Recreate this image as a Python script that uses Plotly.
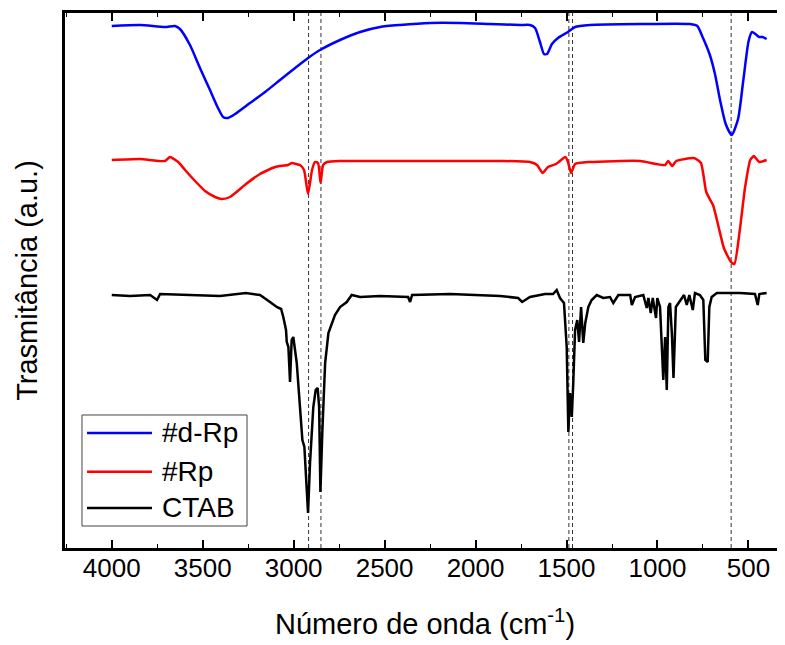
import plotly.graph_objects as go

# ---------------- data ----------------
drp_wn = [4000, 3844, 3707, 3652, 3625, 3570, 3515, 3460, 3416, 3388, 3361, 3322, 3240, 3157,
          3075, 2992, 2921, 2855, 2745, 2635, 2525, 2415, 2250, 2085, 1920, 1755, 1701, 1673,
          1646, 1624, 1607, 1580, 1547, 1492, 1453, 1371, 1096, 821, 781, 752, 712, 684, 655,
          625, 592, 557, 528, 499, 480, 441, 422, 400]
drp_t = [522, 523, 521, 522, 519, 503, 480, 458, 440, 431, 430, 434, 445, 456,
         468, 480, 490, 498, 508, 516, 521, 523, 525, 525, 524, 523, 523, 520,
         506, 494, 494, 504, 510, 516, 521, 523, 524, 524, 522, 511, 493, 474, 447,
         424, 413, 429, 468, 507, 516, 511, 511, 509]

rp_wn = [4000, 3844, 3707, 3680, 3635, 3597, 3542, 3487, 3432, 3394, 3350, 3262, 3185, 3102,
         3031, 3009, 2987, 2965, 2943, 2921, 2899, 2883, 2866, 2852, 2838, 2816, 2745, 2415,
         1865, 1701, 1662, 1632, 1602, 1558, 1506, 1492, 1475, 1453, 1371, 1096, 958, 941,
         919, 897, 800, 761, 732, 693, 664, 635, 596, 577, 548, 519, 490, 470, 441, 400]
rp_t = [388, 389, 387, 391, 386, 378, 367, 357, 351, 349, 351, 364, 374, 381,
        383, 385, 384, 383, 378, 354, 378, 386, 385, 365, 383, 386, 387, 387,
        387, 386, 383, 375, 381, 384, 391, 386, 375, 384, 386, 387, 383, 387,
        382, 387, 390, 385, 356, 342, 321, 300, 286, 284, 317, 360, 388, 392, 386, 388]

ctab_wn = [4000, 3899, 3789, 3751, 3734, 3570, 3405, 3262, 3185, 3130, 3093, 3069, 3057, 3042,
           3038, 3029, 3020, 3011, 3002, 2983, 2965, 2952, 2941, 2932, 2921, 2910, 2892, 2879,
           2868, 2860, 2853, 2842, 2827, 2809, 2791, 2773, 2745, 2708, 2681, 2635, 2525, 2371,
           2360, 2349, 2140, 1865, 1766, 1744, 1701, 1618, 1574, 1554, 1536, 1514, 1499, 1490,
           1481, 1471, 1463, 1453, 1441, 1431, 1420, 1408, 1397, 1380, 1362, 1334, 1298, 1261,
           1243, 1215, 1150, 1141, 1123, 1078, 1059, 1050, 1037, 1026, 1008, 1001, 986, 977,
           968, 958, 949, 940, 931, 921, 912, 899, 885, 867, 854, 839, 825, 806, 794, 767,
           748, 737, 724, 715, 702, 674, 546, 464, 449, 440, 400]
ctab_t = [253, 252, 253, 248, 254, 253, 252, 255, 253, 246, 241, 239, 231, 218,
          206, 201, 166, 208, 211, 185, 135, 108, 101, 68, 35, 85, 141, 158,
          160, 141, 56, 118, 185, 215, 225, 233, 241, 246, 253, 251, 252, 251,
          246, 253, 254, 252, 250, 246, 251, 254, 254, 258, 250, 245, 201, 116,
          155, 131, 165, 218, 228, 206, 241, 205, 225, 241, 248, 253, 250, 251,
          245, 253, 253, 243, 251, 253, 240, 250, 235, 250, 230, 250, 241, 195,
          168, 211, 158, 241, 245, 215, 170, 241, 245, 250, 253, 243, 253, 238, 255, 253,
          248, 188, 186, 241, 251, 255, 255, 254, 243, 254, 255]

series_names = ["#d-Rp", "#Rp", "CTAB"]
series_colors = ["#0000FF", "#FF0000", "#000000"]
marker_lines = [2918, 2850, 1487, 1467, 595]
x_ticks = [4000, 3500, 3000, 2500, 2000, 1500, 1000, 500]

FONT = "Liberation Sans, Arial, sans-serif"

fig = go.Figure()
fig.add_trace(go.Scatter(x=drp_wn, y=drp_t, name=series_names[0], mode="lines",
                         line=dict(color=series_colors[0], width=2.5, shape="spline", smoothing=0.6)))
fig.add_trace(go.Scatter(x=rp_wn, y=rp_t, name=series_names[1], mode="lines",
                         line=dict(color=series_colors[1], width=2.5, shape="spline", smoothing=0.5)))
fig.add_trace(go.Scatter(x=ctab_wn, y=ctab_t, name=series_names[2], mode="lines",
                         line=dict(color=series_colors[2], width=2.5)))

for w in marker_lines:
    fig.add_shape(type="line", xref="x", yref="paper", x0=w, x1=w, y0=0, y1=1,
                  line=dict(color="#333333", width=1, dash="4px,3px"), layer="below")

# legend box drawn in paper coordinates (layout, not data)
fig.add_shape(type="rect", xref="paper", yref="paper", x0=0.0236, x1=0.2528, y0=0.0411, y1=0.2486,
              line=dict(color="#444444", width=1), fillcolor="white", layer="above")
leg_rows = [0.2150, 0.1426, 0.0748]
for name, color, yy in zip(series_names, series_colors, leg_rows):
    fig.add_shape(type="line", xref="paper", yref="paper", x0=0.0306, x1=0.1208, y0=yy, y1=yy,
                  line=dict(color=color, width=2.5), layer="above")
    fig.add_annotation(xref="paper", yref="paper", x=0.1319, y=yy, text=name, showarrow=False,
                       xanchor="left", yanchor="middle", font=dict(size=28, family=FONT, color="black"))

fig.update_layout(
    width=777, height=637,
    margin=dict(l=57, r=0, t=5, b=97),
    paper_bgcolor="white", plot_bgcolor="white",
    font=dict(family=FONT, color="black"),
    showlegend=False,
    xaxis=dict(range=[4257, 299], tickvals=x_ticks, ticks="inside", ticklen=8, tickwidth=2,
               tickcolor="black", showline=True, linewidth=3, linecolor="black",
               mirror="allticks", showgrid=False, zeroline=False,
               tickfont=dict(size=26, family=FONT), ticklabelstandoff=-5,
               minor=dict(ticks="inside", dtick=250, tick0=0, ticklen=4, tickwidth=1,
                          tickcolor="black", showgrid=False),
               title=dict(text="Número de onda (cm<sup>-1</sup>)", font=dict(size=29, family=FONT),
                          standoff=32)),
    yaxis=dict(range=[0, 535], showticklabels=False, ticks="", showline=True, linewidth=3,
               linecolor="black", mirror=False, showgrid=False, zeroline=False,
               title=dict(text="Trasmitância (a.u.)", font=dict(size=29, family=FONT),
                          standoff=16)),
)

fig.write_html("out.html")
